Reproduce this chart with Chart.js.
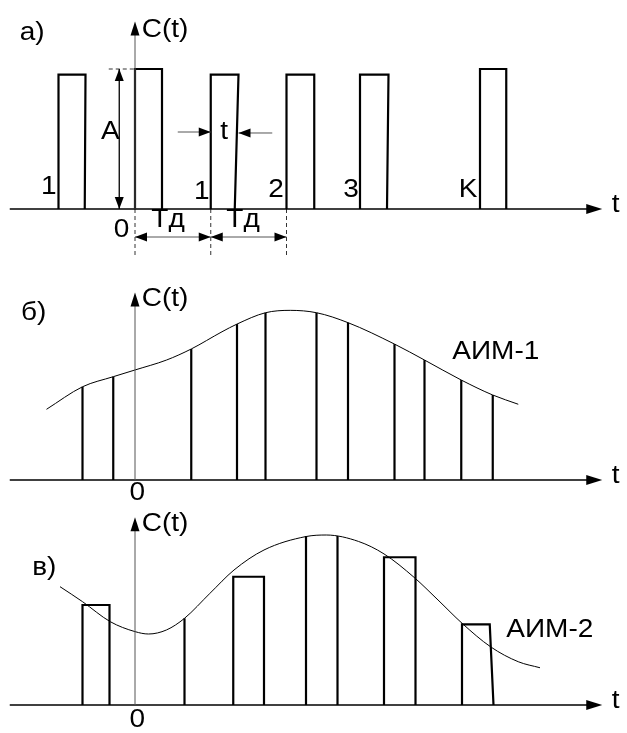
<!DOCTYPE html>
<html>
<head>
<meta charset="utf-8">
<script src="https://cdn.jsdelivr.net/npm/chart.js@4.4.1/dist/chart.umd.min.js"></script>
<style>
  body { margin: 0; background: #fff; }
  canvas { display: block; }
</style>
</head>
<body>
<canvas id="chartA" width="627" height="258" style="width:627px;height:258px"></canvas>
<canvas id="chartB" width="627" height="242" style="width:627px;height:242px"></canvas>
<canvas id="chartC" width="627" height="233" style="width:627px;height:233px"></canvas>
<script>
// time in sampling periods (Tд = 1), amplitude in units of A

// а) unmodulated pulse train
const pulseStartA = [-1.02, 0, 1.01, 2.02, 3.0, 4.6];
const pulseEndTopA = [-0.66, 0.36, 1.38, 2.39, 3.38, 4.95];
const pulseEndBottomA = [-0.67, 0.36, 1.33, 2.39, 3.36, 4.95];
const pulseHeightA = [0.96, 1.0, 0.96, 0.96, 0.96, 1.0];
const pulseLabelsA = ['1', '1', '2', '3', 'K'];

// б) АИМ-1: modulating signal and sample lines
const curveTB = [-1.18, -0.70, -0.29, 0, 0.42, 0.75, 1.16, 1.36, 1.74, 2.07, 2.42, 2.84, 3.46, 3.86, 4.35, 4.77, 5.11];
const curveB = [0.505, 0.666, 0.738, 0.786, 0.857, 0.936, 1.059, 1.114, 1.195, 1.212, 1.195, 1.124, 0.971, 0.857, 0.714, 0.607, 0.541];
const sampleTB = [-0.70, -0.29, 0.75, 1.36, 1.74, 2.42, 2.84, 3.46, 3.86, 4.35, 4.77];
const sampleB = [0.666, 0.738, 0.936, 1.114, 1.195, 1.195, 1.124, 0.971, 0.857, 0.714, 0.607];

// в) АИМ-2: modulating signal and flat-top pulses
const curveTC = [-1.0, -0.70, -0.33, 0, 0.18, 0.42, 0.66, 1.0, 1.32, 1.72, 2.28, 2.55, 2.98, 3.32, 3.72, 4.04, 4.36, 4.74, 5.11, 5.40];
const curveC = [0.845, 0.738, 0.595, 0.524, 0.507, 0.536, 0.619, 0.798, 0.964, 1.107, 1.203, 1.214, 1.168, 1.079, 0.912, 0.75, 0.584, 0.416, 0.309, 0.266];
const pulseStartC = [-0.70, 0.66, 1.31, 2.28, 3.32, 4.36];
const pulseEndTopC = [-0.34, 0.66, 1.72, 2.70, 3.74, 4.73];
const pulseEndBottomC = [-0.34, 0.66, 1.72, 2.70, 3.74, 4.78];
const pulseHeightC = [0.714, 0.619, 0.916, 1.207, 1.055, 0.576];
const pulseFlatTopC = [true, true, true, false, true, true];

const T_MIN = -1.8, T_MAX = 6.56;
const AXIS_FROM = -1.67, AXIS_TO = 6.23, Y_TIP = 1.34;
const FONT = '25px "Liberation Sans", Arial, sans-serif';
const STRETCH = 1.12;

const pulseDataset = (s, eTop, eBot, h) => ({
  data: [{x: s, y: 0}, {x: s, y: h}, {x: eTop, y: h}, {x: eBot, y: 0}],
  borderColor: '#000', borderWidth: 2.2, tension: 0
});
const stemDataset = (t, v) => ({
  data: [{x: t, y: 0}, {x: t, y: v}],
  borderColor: '#000', borderWidth: 2.2, tension: 0
});
const curveDataset = (ts, vs) => ({
  data: ts.map((t, i) => ({x: t, y: vs[i]})),
  borderColor: '#000', borderWidth: 1, cubicInterpolationMode: 'monotone'
});
const dashDataset = (pts) => ({
  data: pts.map(p => ({x: p[0], y: p[1]})),
  borderColor: '#333', borderWidth: 1, borderDash: [4, 3], tension: 0
});

function arrowHead(ctx, x, y, dx, dy, len, half) {
  const n = Math.hypot(dx, dy);
  const ux = dx / n, uy = dy / n;
  ctx.beginPath();
  ctx.moveTo(x, y);
  ctx.lineTo(x - ux * len - uy * half, y - uy * len + ux * half);
  ctx.lineTo(x - ux * len + uy * half, y - uy * len - ux * half);
  ctx.closePath();
  ctx.fill();
}

// axes, arrows and labels
const decorPlugin = {
  id: 'decor',
  afterDatasetsDraw(chart, args, opts) {
    const {ctx, scales: {x, y}} = chart;
    const px = v => x.getPixelForValue(v);
    const py = v => y.getPixelForValue(v);
    ctx.save();
    ctx.fillStyle = '#000';

    // t axis
    ctx.strokeStyle = '#000';
    ctx.lineWidth = 1.3;
    ctx.beginPath();
    ctx.moveTo(px(AXIS_FROM), py(0));
    ctx.lineTo(px(AXIS_TO) - 10, py(0));
    ctx.stroke();
    arrowHead(ctx, px(AXIS_TO), py(0), 1, 0, 16, 5);

    // C(t) axis
    ctx.strokeStyle = '#555';
    ctx.lineWidth = 1;
    ctx.beginPath();
    ctx.moveTo(px(0), py(0));
    ctx.lineTo(px(0), py(Y_TIP) + 8);
    ctx.stroke();
    arrowHead(ctx, px(0), py(Y_TIP), 0, -1, 14, 4.5);

    (opts.arrows || []).forEach(a => {
      const x1 = px(a.from[0]), y1 = py(a.from[1]);
      const x2 = px(a.to[0]), y2 = py(a.to[1]);
      ctx.strokeStyle = a.color || '#000';
      ctx.lineWidth = a.width || 1.3;
      ctx.beginPath();
      ctx.moveTo(x1, y1);
      ctx.lineTo(x2, y2);
      ctx.stroke();
      arrowHead(ctx, x2, y2, x2 - x1, y2 - y1, 12, 4.5);
      if (a.both) arrowHead(ctx, x1, y1, x1 - x2, y1 - y2, 12, 4.5);
    });

    ctx.font = FONT;
    ctx.textBaseline = 'middle';
    (opts.texts || []).forEach(t => {
      ctx.save();
      ctx.translate(px(t.x), py(t.y));
      ctx.scale(STRETCH, 1);
      ctx.textAlign = t.align || 'center';
      ctx.fillText(t.text, 0, 0);
      ctx.restore();
    });
    ctx.restore();
  }
};

function makeChart(id, datasets, yMin, yMax, decor) {
  return new Chart(document.getElementById(id), {
    type: 'scatter',
    data: {datasets: datasets.map(d => Object.assign({showLine: true, pointRadius: 0, clip: false}, d))},
    options: {
      responsive: false,
      animation: false,
      layout: {padding: 0},
      scales: {
        x: {type: 'linear', display: false, min: T_MIN, max: T_MAX},
        y: {type: 'linear', display: false, min: yMin, max: yMax}
      },
      plugins: {legend: {display: false}, tooltip: {enabled: false}, decor: decor}
    },
    plugins: [decorPlugin]
  });
}

// ---- а) ----
const dsA = pulseStartA.map((s, i) => pulseDataset(s, pulseEndTopA[i], pulseEndBottomA[i], pulseHeightA[i]));
dsA.push(dashDataset([[-0.35, pulseHeightA[1]], [0, pulseHeightA[1]]]));
[1, 2, 3].forEach(i => dsA.push(dashDataset([[pulseStartA[i], 0], [pulseStartA[i], -0.35]])));
makeChart('chartA', dsA, -0.35, 1.493, {
  arrows: [
    {from: [-0.21, 0], to: [-0.21, pulseHeightA[1]], both: true},
    {from: [0.57, 0.55], to: [pulseStartA[2], 0.55], color: '#555', width: 1},
    {from: [1.83, 0.543], to: [pulseEndTopA[2], 0.543], color: '#555', width: 1},
    {from: [pulseStartA[1], -0.2], to: [pulseStartA[2], -0.2], both: true, color: '#555', width: 1},
    {from: [pulseStartA[2], -0.2], to: [pulseStartA[3], -0.2], both: true, color: '#555', width: 1}
  ],
  texts: [
    {text: 'а)', x: -1.37, y: 1.26},
    {text: 'C(t)', x: 0.09, y: 1.28, align: 'left'},
    {text: 'A', x: -0.33, y: 0.55},
    {text: 't', x: 1.19, y: 0.55},
    {text: pulseLabelsA[0], x: -1.15, y: 0.157},
    {text: pulseLabelsA[1], x: 0.89, y: 0.121},
    {text: pulseLabelsA[2], x: 1.88, y: 0.136},
    {text: pulseLabelsA[3], x: 2.88, y: 0.136},
    {text: pulseLabelsA[4], x: 4.44, y: 0.136},
    {text: '0', x: -0.18, y: -0.15},
    {text: 'Тд', x: 0.44, y: -0.08},
    {text: 'Тд', x: 1.44, y: -0.08},
    {text: 't', x: 6.41, y: 0.03}
  ]
});

// ---- б) ----
const dsB = sampleTB.map((t, i) => stemDataset(t, sampleB[i]));
dsB.push(curveDataset(curveTB, curveB));
makeChart('chartB', dsB, -0.143, 1.586, {
  texts: [
    {text: 'б)', x: -1.35, y: 1.19},
    {text: 'C(t)', x: 0.09, y: 1.29, align: 'left'},
    {text: 'АИМ-1', x: 4.23, y: 0.914, align: 'left'},
    {text: '0', x: 0.03, y: -0.093},
    {text: 't', x: 6.41, y: 0.03}
  ]
});

// ---- в) ----
const dsC = [];
pulseStartC.forEach((s, i) => {
  if (pulseFlatTopC[i]) {
    dsC.push(pulseDataset(s, pulseEndTopC[i], pulseEndBottomC[i], pulseHeightC[i]));
  } else {
    // top of this pulse is the signal curve itself
    dsC.push(stemDataset(s, pulseHeightC[i]));
    dsC.push(stemDataset(pulseEndTopC[i], pulseHeightC[i]));
  }
});
dsC.push(curveDataset(curveTC, curveC));
makeChart('chartC', dsC, -0.2, 1.464, {
  texts: [
    {text: 'в)', x: -1.21, y: 0.98},
    {text: 'C(t)', x: 0.09, y: 1.29, align: 'left'},
    {text: 'АИМ-2', x: 4.95, y: 0.536, align: 'left'},
    {text: '0', x: 0.03, y: -0.107},
    {text: 't', x: 6.41, y: 0.03}
  ]
});
</script>
</body>
</html>
